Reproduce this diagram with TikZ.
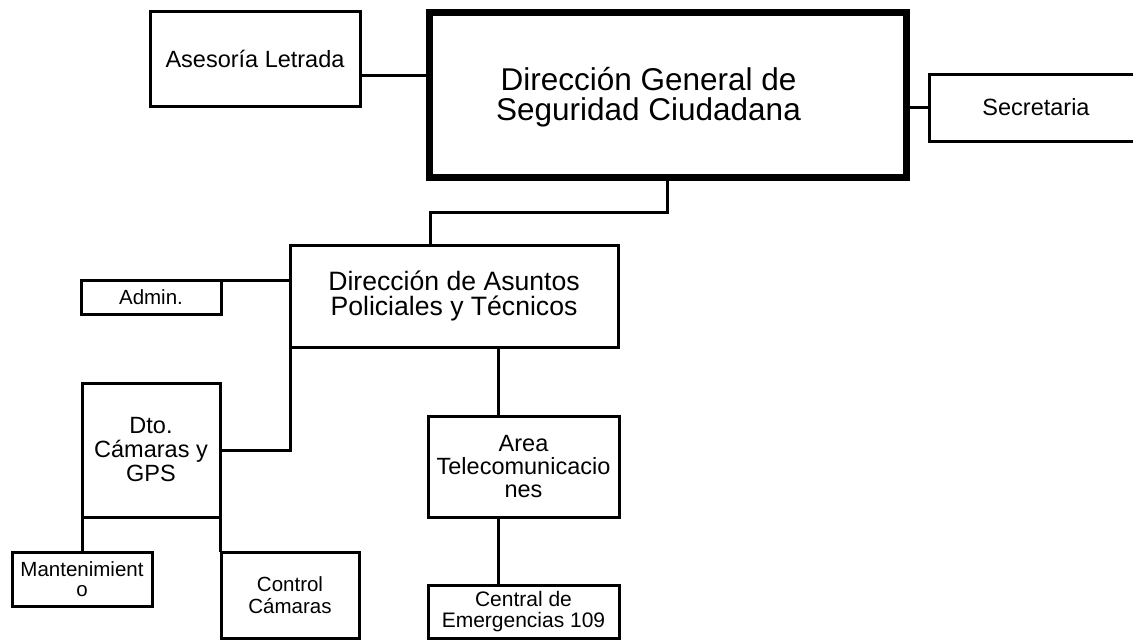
\documentclass[tikz,border=0pt]{standalone}
\usepackage{fontspec}
\setmainfont{Liberation Sans}
\begin{document}
\begin{tikzpicture}[x=1pt,y=-1pt,
  box/.style={draw=black,line width=3pt,fill=white,inner sep=0pt,outer sep=0pt,align=center,rectangle},
  conn/.style={draw=black,line width=3pt},
  fA/.style={font=\fontsize{31.5}{30}\selectfont},
  fB/.style={font=\fontsize{26.6}{25}\selectfont},
  fC/.style={font=\fontsize{23.5}{23}\selectfont},
  fD/.style={font=\fontsize{20.5}{20.5}\selectfont}]
\useasboundingbox (0,0) rectangle (1133,641);
\clip (0,0) rectangle (1133,641);
% nodes
\node[box,minimum width=210pt,minimum height=95pt,fC] (ase) at (255,59) {Asesoría Letrada};
\node[box,line width=7pt,minimum width=477pt,minimum height=165pt] (main) at (667.5,94.5) {};
\node[fA,align=center,inner sep=0pt] (maintext) at ([xshift=-19pt,yshift=-2.5pt]main.center) {Dirección General de\\Seguridad Ciudadana};
\node[box,minimum width=214pt,minimum height=67pt,fC] (sec) at (1036,107.5) {Secretaria};
\node[box,minimum width=328pt,minimum height=102pt,fB] (dapt) at (454,296) {Dirección de Asuntos\\Policiales y Técnicos};
\node[box,minimum width=140pt,minimum height=34pt,fD] (admin) at (151,297) {Admin.};
\node[box,minimum width=138pt,minimum height=134pt,font=\fontsize{23.5}{24}\selectfont] (dto) at (151,450) {Dto.\\Cámaras y\\GPS};
\node[box,minimum width=140pt,minimum height=54pt,font=\fontsize{20.5}{19.5}\selectfont] (mant) at (82,579) {Mantenimient\\o};
\node[box,minimum width=138pt,minimum height=86pt,font=\fontsize{20.5}{21.5}\selectfont] (ctrl) at (290,595) {Control\\Cámaras};
\node[box,minimum width=191pt,minimum height=101pt,fC] (area) at (523.5,466.5) {Area\\Telecomunicacio\\nes};
\node[box,minimum width=191pt,minimum height=53pt,font=\fontsize{21}{21.5}\selectfont] (cent) at (523.5,611.5) {Central de\\Emergencias 109};
% connectors
\draw[conn] ([yshift=-16pt]ase.east) -- ([yshift=-16pt]ase.east -| main.west);
\draw[conn] (main.east |- sec.west) -- (sec.west);
\coordinate (j1) at (430,212);
\draw[conn] (main.south) |- (j1) -- (j1 |- dapt.north);
\draw[conn] (admin.north east) -- (admin.north east -| dapt.west);
\draw[conn] ([xshift=-25.5pt]area.north |- dapt.south) -- ([xshift=-25.5pt]area.north);
\draw[conn] ([xshift=-25.5pt]area.south) -- ([xshift=-25.5pt]cent.north);
\draw[conn] (dapt.south west) |- (dto.east);
\draw[conn] (dto.south west) -- (dto.south west |- mant.north);
\draw[conn] (dto.south east) -- (dto.south east |- ctrl.north);
\end{tikzpicture}
\end{document}
